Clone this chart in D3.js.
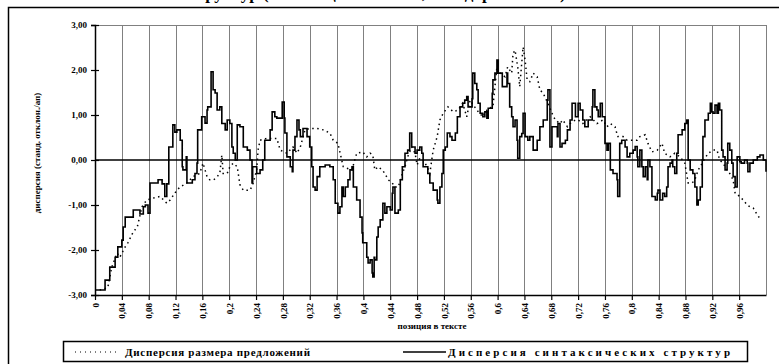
<!DOCTYPE html>
<html>
<head>
<meta charset="utf-8">
<script src="https://cdn.jsdelivr.net/npm/d3@7"></script>
<style>
  html, body { margin: 0; padding: 0; background: #fff; }
  svg { display: block; }
  text { font-family: "Liberation Serif", "DejaVu Serif", serif; fill: #000; }
</style>
</head>
<body>
<svg id="chart" width="779" height="364"></svg>
<script>
// Position in the text (0..1) and standardised dispersion for each series
const syntaxPos = [0,0.010,0.015,0.022,0.030,0.034,0.040,0.042,0.045,0.055,0.057,0.067,0.072,0.075,0.079,0.082,0.089,0.094,0.100,0.104,0.107,0.110,0.116,0.119,0.122,0.127,0.130,0.131,0.136,0.137,0.145,0.149,0.152,0.153,0.159,0.164,0.167,0.168,0.173,0.176,0.179,0.182,0.186,0.189,0.194,0.197,0.201,0.204,0.206,0.209,0.212,0.216,0.221,0.227,0.231,0.234,0.235,0.241,0.246,0.250,0.253,0.261,0.264,0.268,0.271,0.276,0.279,0.282,0.283,0.286,0.291,0.294,0.295,0.298,0.301,0.304,0.306,0.310,0.316,0.320,0.323,0.325,0.328,0.331,0.335,0.343,0.350,0.355,0.358,0.362,0.365,0.368,0.370,0.373,0.377,0.380,0.383,0.385,0.390,0.395,0.398,0.399,0.405,0.407,0.410,0.413,0.414,0.416,0.417,0.420,0.422,0.425,0.429,0.432,0.435,0.440,0.443,0.444,0.447,0.452,0.455,0.458,0.462,0.466,0.469,0.472,0.477,0.480,0.484,0.487,0.489,0.495,0.496,0.499,0.504,0.510,0.511,0.514,0.517,0.519,0.522,0.525,0.529,0.532,0.537,0.540,0.544,0.548,0.551,0.554,0.556,0.562,0.563,0.566,0.569,0.571,0.574,0.578,0.581,0.584,0.586,0.592,0.593,0.596,0.599,0.601,0.604,0.607,0.611,0.614,0.615,0.618,0.621,0.623,0.626,0.629,0.630,0.633,0.636,0.638,0.641,0.645,0.648,0.653,0.659,0.663,0.668,0.674,0.675,0.678,0.681,0.686,0.689,0.690,0.693,0.696,0.701,0.704,0.708,0.711,0.716,0.720,0.723,0.727,0.730,0.735,0.741,0.742,0.745,0.748,0.750,0.753,0.756,0.760,0.763,0.765,0.768,0.772,0.778,0.779,0.782,0.785,0.790,0.793,0.797,0.802,0.805,0.808,0.809,0.812,0.815,0.817,0.820,0.823,0.824,0.827,0.830,0.835,0.838,0.839,0.842,0.846,0.849,0.852,0.854,0.857,0.860,0.861,0.864,0.867,0.869,0.875,0.879,0.882,0.884,0.887,0.891,0.894,0.897,0.899,0.902,0.905,0.906,0.909,0.914,0.917,0.919,0.921,0.924,0.927,0.929,0.931,0.934,0.936,0.939,0.942,0.943,0.946,0.949,0.951,0.954,0.957,0.961,0.963,0.968,0.972,0.973,0.976,0.981,0.987,0.991,0.996,1.000];
const syntaxVal = [-2.89,-2.89,-2.67,-2.38,-2.16,-1.93,-1.78,-1.49,-1.27,-1.27,-1.11,-1.20,-1.04,-1.00,-1.18,-0.51,-0.51,-0.44,-0.53,-0.81,-0.53,0.29,0.78,0.62,0.67,0.44,-0.15,-0.22,0.07,-0.51,-0.44,-0.30,-0.07,0.67,0.96,0.82,1.11,1.18,1.96,1.56,1.49,1.11,1.18,0.81,0.67,0.89,0.81,0.29,0.15,0.00,0.78,0.74,0.29,0.22,0.00,-0.51,-0.15,-0.30,-0.22,0.00,0.44,0.67,1.07,0.96,0.93,0.93,1.29,0.93,0.60,0.07,-0.15,-0.26,0.22,0.52,0.89,0.67,0.52,0.70,0.52,0.29,-0.15,-0.60,-0.67,-0.37,-0.15,-0.11,-0.15,-0.44,-0.96,-1.18,-1.04,-0.60,-0.81,-0.60,-0.44,-0.22,-0.15,-0.60,-0.89,-1.27,-1.62,-1.84,-2.16,-2.29,-2.22,-2.51,-2.60,-2.16,-2.22,-1.71,-1.49,-1.33,-0.96,-1.18,-1.04,-1.11,-0.74,-0.60,-1.18,-1.11,-0.44,-0.15,0.15,0.22,0.60,0.29,0.15,0.22,0.29,0.15,-0.15,-0.15,-0.30,-0.51,-0.67,-0.89,-0.96,-0.60,-0.30,0.22,0.29,0.60,0.52,0.44,0.60,0.96,1.18,1.26,1.33,1.41,1.18,1.36,1.93,1.70,1.56,1.26,1.04,0.96,1.07,0.93,1.15,1.48,1.78,1.93,2.22,1.93,1.93,1.63,1.63,1.93,1.70,1.18,0.96,0.74,0.89,0.44,0.04,0.52,0.59,1.04,0.52,0.44,0.52,0.22,0.44,0.74,0.89,1.33,1.56,0.29,0.74,0.74,0.52,0.81,0.29,0.37,0.44,0.67,0.89,1.26,0.96,1.26,1.11,0.89,0.74,0.89,1.18,1.56,1.18,1.11,0.96,1.26,0.96,0.37,0.22,0.37,-0.22,-0.30,-0.44,-0.81,0.37,0.44,0.29,0.07,0.15,0.22,0.30,0.07,-0.15,0.22,-0.15,-0.37,-0.15,-0.44,0.00,-0.15,-0.81,-0.89,-0.74,-0.67,-0.89,-0.74,-0.81,-0.60,-0.15,-0.07,0.00,-0.15,-0.30,0.15,0.56,0.67,0.81,0.89,0.00,-0.22,-0.30,-0.60,-1.00,-0.89,-0.60,0.00,0.52,0.89,1.04,1.26,1.07,1.04,1.22,1.04,1.26,1.11,0.22,0.07,-0.22,-0.07,0.37,0.22,-0.07,-0.37,-0.60,0.07,-0.04,-0.07,0.00,-0.07,-0.26,-0.07,0.00,0.07,0.11,0.00,-0.26];

const lengthPos = [0.007,0.019,0.025,0.033,0.037,0.045,0.049,0.057,0.063,0.070,0.077,0.086,0.097,0.107,0.112,0.122,0.127,0.137,0.146,0.156,0.161,0.167,0.171,0.177,0.182,0.186,0.189,0.191,0.197,0.201,0.206,0.212,0.216,0.221,0.231,0.235,0.241,0.243,0.246,0.256,0.264,0.271,0.276,0.286,0.295,0.301,0.306,0.313,0.320,0.331,0.340,0.350,0.355,0.362,0.370,0.375,0.383,0.390,0.399,0.405,0.410,0.414,0.417,0.422,0.428,0.432,0.437,0.443,0.447,0.452,0.458,0.462,0.466,0.472,0.477,0.480,0.484,0.489,0.495,0.499,0.504,0.510,0.514,0.519,0.526,0.534,0.541,0.548,0.554,0.559,0.569,0.578,0.586,0.593,0.599,0.604,0.611,0.615,0.621,0.623,0.626,0.630,0.633,0.638,0.641,0.644,0.648,0.653,0.659,0.663,0.668,0.675,0.681,0.686,0.693,0.697,0.704,0.708,0.716,0.720,0.727,0.738,0.748,0.757,0.763,0.768,0.775,0.779,0.787,0.793,0.800,0.808,0.812,0.820,0.824,0.830,0.838,0.845,0.849,0.857,0.864,0.872,0.879,0.884,0.890,0.894,0.899,0.905,0.909,0.914,0.921,0.927,0.931,0.936,0.942,0.946,0.951,0.954,0.961,0.966,0.972,0.976,0.981,0.987,0.991];
const lengthVal = [-2.89,-2.84,-2.38,-2.07,-2.16,-1.93,-1.84,-1.60,-1.49,-1.04,-0.89,-0.85,-0.81,-0.96,-0.89,-0.67,-0.60,-0.51,-0.37,-0.30,-0.07,-0.37,-0.44,-0.44,-0.37,-0.30,0.11,-0.30,-0.30,-0.15,-0.07,-0.15,-0.55,-0.67,-0.67,-0.55,-0.22,0.22,0.44,0.48,0.48,0.48,0.22,0.15,0.29,0.15,0.29,0.67,0.70,0.70,0.67,0.60,0.44,0.37,-0.15,-0.18,-0.22,0.15,0.18,0.07,0.15,0.11,-0.22,-0.15,-0.22,-0.30,-0.44,-0.51,-0.60,-0.60,-0.30,-0.15,0.07,0.29,0.15,-0.11,0.04,0.00,-0.15,-0.30,0.22,0.52,0.89,1.04,1.18,1.07,1.11,1.26,0.96,1.33,1.11,0.96,1.15,1.18,2.07,1.93,1.85,2.07,1.93,2.37,2.44,2.07,1.63,2.51,2.22,1.78,1.74,1.93,1.85,1.56,1.48,1.26,1.04,0.89,0.81,0.89,0.74,0.81,0.89,0.89,0.81,0.96,0.81,0.89,0.74,0.81,0.74,0.52,0.52,0.44,0.44,0.44,0.52,0.56,0.37,0.18,0.22,0.37,0.15,0.07,0.15,0.07,-0.07,-0.51,-0.51,-0.44,-0.22,-0.07,0.04,0.15,0.22,0.22,0.00,-0.07,-0.22,-0.30,-0.44,-0.74,-0.81,-0.89,-1.00,-1.04,-1.07,-1.22,-1.30];

const xTicks = [0,0.04,0.08,0.12,0.16,0.2,0.24,0.28,0.32,0.36,0.4,0.44,0.48,0.52,0.56,0.6,0.64,0.68,0.72,0.76,0.8,0.84,0.88,0.92,0.96];
const yTicks = [-3,-2,-1,0,1,2,3];

const titleText = "Дисперсия размера предложений и синтаксических структур (по позиции в тексте, стандартизовано)";
const yTitle = "дисперсия (станд. отклон./ап)";
const xTitle = "позиция в тексте";
const legendLength = "Дисперсия размера предложений";
const legendSyntax = "Дисперсия синтаксических структур";

const svg = d3.select("#chart");
const plot = { left: 95, right: 766, top: 25, bottom: 295 };

const x = d3.scaleLinear().domain([0, 1]).range([plot.left, plot.right]);
const y = d3.scaleLinear().domain([-3, 3]).range([plot.bottom, plot.top]);
const fmt = v => v.toFixed(2).replace(".", ",");
const fmtX = v => String(+v.toFixed(2)).replace(".", ",");

// outer chart frame
svg.append("rect").attr("x", 8.5).attr("y", 7.5).attr("width", 790).attr("height", 380)
  .attr("fill", "none").attr("stroke", "#000").attr("stroke-width", 1.5);

// title sits above the frame, only its lowest strokes reach the page
const title = svg.append("text")
  .attr("y", -1)
  .attr("font-size", 17).attr("font-weight", "bold")
  .text(titleText);
const paren = titleText.indexOf("(");
const off = title.node().getSubStringLength(0, paren);
title.attr("x", 263 - off);

// vertical grid lines at every category tick and the right edge
svg.append("g")
  .selectAll("line")
  .data(xTicks.slice(1).concat([1]))
  .join("line")
  .attr("x1", d => Math.round(x(d)) + 0.5).attr("x2", d => Math.round(x(d)) + 0.5)
  .attr("y1", plot.top).attr("y2", plot.bottom)
  .attr("stroke", "#808080").attr("stroke-width", 1);

// top edge of the plot area
svg.append("line")
  .attr("x1", plot.left).attr("x2", Math.round(x(1)) + 0.5)
  .attr("y1", plot.top + 0.5).attr("y2", plot.top + 0.5)
  .attr("stroke", "#808080");

// y axis
const yAxis = d3.axisLeft(y).tickValues(yTicks).tickFormat(fmt).tickSize(4).tickPadding(4);
const gy = svg.append("g").attr("transform", `translate(${plot.left},0)`).call(yAxis);
gy.select(".domain").attr("stroke", "#000").attr("stroke-width", 1.5);
gy.selectAll(".tick line").attr("x2", 4).attr("x1", -4).attr("stroke-width", 1.2);
gy.selectAll(".tick text").attr("font-size", 9).attr("font-weight", "bold")
  .attr("font-family", "Liberation Serif, serif");

// x axis
const xAxis = d3.axisBottom(x).tickValues(xTicks).tickFormat(fmtX).tickSize(5).tickSizeOuter(0);
const gx = svg.append("g").attr("transform", `translate(0,${plot.bottom})`).call(xAxis);
gx.select(".domain").attr("stroke", "#000").attr("stroke-width", 1.5);
gx.selectAll(".tick line").attr("stroke-width", 1.2);
gx.selectAll(".tick text")
  .attr("font-size", 9).attr("font-weight", "bold")
  .attr("font-family", "Liberation Serif, serif")
  .attr("text-anchor", "end")
  .attr("transform", "rotate(-90)")
  .attr("x", -8).attr("y", 0).attr("dy", "0.35em");

// zero line
svg.append("line")
  .attr("x1", plot.left).attr("x2", x(1))
  .attr("y1", y(0)).attr("y2", y(0))
  .attr("stroke", "#000").attr("stroke-width", 1.5);

// sentence-length dispersion (dotted)
const lenData = lengthPos.map((p, i) => [p, lengthVal[i]]);
svg.append("path")
  .datum(lenData)
  .attr("fill", "none").attr("stroke", "#000").attr("stroke-width", 1.5)
  .attr("stroke-dasharray", "1.5,3.5")
  .attr("d", d3.line().x(d => x(d[0])).y(d => y(d[1])));

// syntactic-structure dispersion (solid, stepped)
const synData = syntaxPos.map((p, i) => [p, syntaxVal[i]]);
svg.append("path")
  .datum(synData)
  .attr("fill", "none").attr("stroke", "#000").attr("stroke-width", 1.6)
  .attr("d", d3.line().curve(d3.curveStepAfter).x(d => x(d[0])).y(d => y(d[1])));

// axis titles
svg.append("text")
  .attr("transform", "translate(40,153) rotate(-90)")
  .attr("text-anchor", "middle").attr("font-size", 9).attr("font-weight", "bold")
  .text(yTitle);
svg.append("text")
  .attr("x", 432).attr("y", 329)
  .attr("text-anchor", "middle").attr("font-size", 9).attr("font-weight", "bold")
  .text(xTitle);

// legend
const lg = svg.append("g");
lg.append("rect").attr("x", 63.5).attr("y", 341.5).attr("width", 684).attr("height", 20)
  .attr("fill", "#fff").attr("stroke", "#000").attr("stroke-width", 1.5);
lg.append("line").attr("x1", 75).attr("x2", 118).attr("y1", 352).attr("y2", 352)
  .attr("stroke", "#000").attr("stroke-width", 1).attr("stroke-dasharray", "1,4");
lg.append("text").attr("x", 125).attr("y", 355.5)
  .attr("font-size", 11).attr("font-weight", "bold")
  .attr("textLength", 185).attr("lengthAdjust", "spacing")
  .text(legendLength);
lg.append("line").attr("x1", 403).attr("x2", 446).attr("y1", 352).attr("y2", 352)
  .attr("stroke", "#000").attr("stroke-width", 1.5);
lg.append("text").attr("x", 448).attr("y", 355.5)
  .attr("font-size", 11).attr("font-weight", "bold")
  .attr("textLength", 282).attr("lengthAdjust", "spacing")
  .text(legendSyntax);
</script>
</body>
</html>
